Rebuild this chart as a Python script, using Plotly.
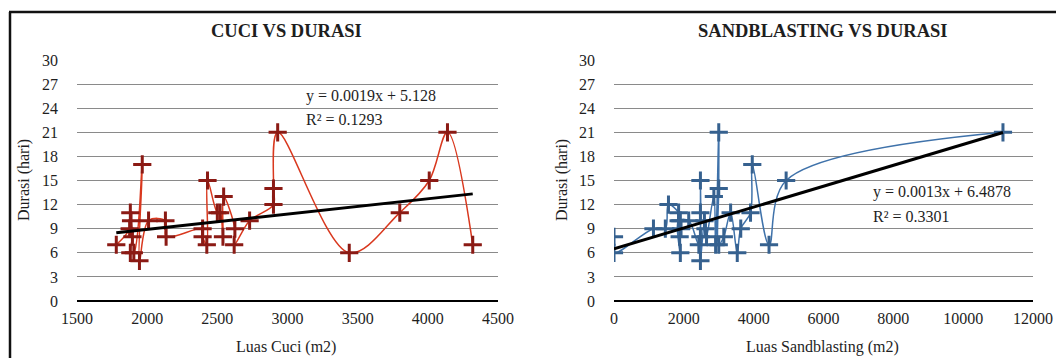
import plotly.graph_objects as go

# ---------------- data ----------------
cuci_x = [1780, 1875, 1880, 1885, 1895, 1880, 1905, 1965, 1945, 2010, 2130, 2135,
          2395, 2395, 2425, 2430, 2500, 2520, 2540, 2545, 2625, 2620, 2730,
          2900, 2900, 2930, 3440, 3800, 4010, 4140, 4320]
cuci_y = [7, 9, 11, 10, 8, 6, 6, 17, 5, 10, 10, 8,
          9, 8, 7, 15, 11, 11, 8, 13, 9, 7, 10,
          12, 14, 21, 6, 11, 15, 21, 7]
cuci_slope, cuci_icpt, cuci_r2 = 0.0019, 5.128, 0.1293

sb_x = [0, 0, 1130, 1470, 1560, 1850, 1900, 1920, 1880, 1900, 1850, 2140,
        2430, 2475, 2475, 2475, 2475, 2590, 2620, 2650, 2860, 2910,
        3000, 3000, 3000, 3145, 3340, 3530, 3630, 3910, 3960, 4440, 4930, 11140]
sb_y = [8, 6, 9, 9, 12, 11, 10, 9, 8, 6, 10, 10,
        7, 15, 11, 8, 5, 10, 9, 8, 13, 7,
        21, 14, 7, 8, 11, 6, 9, 11, 17, 7, 15, 21]
sb_slope, sb_icpt, sb_r2 = 0.0013, 6.4878, 0.3301

y_ticks = [0, 3, 6, 9, 12, 15, 18, 21, 24, 27, 30]
cuci_xticks = [1500, 2000, 2500, 3000, 3500, 4000, 4500]
sb_xticks = [0, 2000, 4000, 6000, 8000, 10000, 12000]

# ---------------- layout helpers ----------------
W, H = 1056, 358
FONT = "Liberation Serif, Times New Roman, serif"
TXT = "#1e1e1e"


def fx(p):
    return p / W


def fy(p):
    return 1 - p / H


fig = go.Figure()

# left series
fig.add_trace(go.Scatter(
    x=cuci_x, y=cuci_y, mode="lines+markers", xaxis="x", yaxis="y",
    line=dict(color="#D9381E", width=1.5, shape="spline", smoothing=1),
    marker=dict(symbol="cross-thin", size=13, color="#8B1A14",
                line=dict(width=3, color="#8B1A14")),
    showlegend=False))
cx = [min(cuci_x), max(cuci_x)]
fig.add_trace(go.Scatter(
    x=cx, y=[cuci_slope * v + cuci_icpt for v in cx], mode="lines",
    xaxis="x", yaxis="y", line=dict(color="black", width=3), showlegend=False))

# right series
fig.add_trace(go.Scatter(
    x=sb_x, y=sb_y, mode="lines+markers", xaxis="x2", yaxis="y2",
    line=dict(color="#3F72AA", width=1.5, shape="spline", smoothing=1),
    marker=dict(symbol="cross-thin", size=13, color="#36618F",
                line=dict(width=3, color="#36618F")),
    showlegend=False))
sx = [min(sb_x), max(sb_x)]
fig.add_trace(go.Scatter(
    x=sx, y=[sb_slope * v + sb_icpt for v in sx], mode="lines",
    xaxis="x2", yaxis="y2", line=dict(color="black", width=3), showlegend=False))

ydom = [fy(301), fy(60)]
tickfont = dict(family=FONT, size=16, color=TXT)

yax = dict(range=[0, 30], tickvals=y_ticks, ticktext=[str(v) for v in y_ticks],
           showgrid=True, gridcolor="#8A8A8A",
           gridwidth=1, zeroline=True, zerolinecolor="black", zerolinewidth=2,
           showline=False, ticks="", tickfont=tickfont, domain=ydom,
           ticklabelstandoff=18, fixedrange=True, automargin=False)
xax = dict(showgrid=False, zeroline=False, showline=False, ticks="",
           tickfont=tickfont, ticklabelstandoff=6, fixedrange=True, automargin=False)

fig.update_layout(
    template="none",
    width=W, height=H, margin=dict(l=0, r=0, t=0, b=0, pad=0), autosize=False,
    paper_bgcolor="white", plot_bgcolor="rgba(0,0,0,0)",
    xaxis=dict(xax, domain=[fx(77), fx(498)], range=[1500, 4500],
               tickvals=cuci_xticks, ticktext=[str(v) for v in cuci_xticks], anchor="y"),
    yaxis=dict(yax, anchor="x"),
    xaxis2=dict(xax, domain=[fx(614), fx(1033)], range=[0, 12000],
                tickvals=sb_xticks, ticktext=[str(v) for v in sb_xticks], anchor="y2"),
    yaxis2=dict(yax, anchor="x2"),
    showlegend=False,
)

ann = []
# titles
ann.append(dict(text="<b>CUCI VS DURASI</b>", x=fx(286), y=fy(31), xref="paper", yref="paper",
                showarrow=False, font=dict(family=FONT, size=18.5, color=TXT),
                xanchor="center", yanchor="middle"))
ann.append(dict(text="<b>SANDBLASTING VS DURASI</b>", x=fx(822), y=fy(31), xref="paper",
                yref="paper", showarrow=False, font=dict(family=FONT, size=18.5, color=TXT),
                xanchor="center", yanchor="middle"))
# axis titles
for xc, txt in [(286, "Luas Cuci (m2)"), (822, "Luas Sandblasting (m2)")]:
    ann.append(dict(text=txt, x=fx(xc), y=fy(347), xref="paper", yref="paper",
                    showarrow=False, font=dict(family=FONT, size=16, color=TXT),
                    xanchor="center", yanchor="middle"))
for xc in [24, 562]:
    ann.append(dict(text="Durasi (hari)", x=fx(xc), y=fy(180), xref="paper", yref="paper",
                    showarrow=False, textangle=-90,
                    font=dict(family=FONT, size=16, color=TXT),
                    xanchor="center", yanchor="middle"))
# equations
eqfont = dict(family=FONT, size=16, color=TXT)
ann.append(dict(text=f"y = {cuci_slope}x + {cuci_icpt}", x=fx(304), y=fy(96), xref="paper",
                yref="paper", showarrow=False, font=eqfont, xanchor="left", yanchor="middle"))
ann.append(dict(text=f"R² = {cuci_r2}", x=fx(304), y=fy(119), xref="paper",
                yref="paper", showarrow=False, font=eqfont, xanchor="left", yanchor="middle"))
ann.append(dict(text=f"y = {sb_slope}x + {sb_icpt}", x=fx(871), y=fy(192), xref="paper",
                yref="paper", showarrow=False, font=eqfont, xanchor="left", yanchor="middle"))
ann.append(dict(text=f"R² = {sb_r2}", x=fx(871), y=fy(216), xref="paper",
                yref="paper", showarrow=False, font=eqfont, xanchor="left", yanchor="middle"))
fig.update_layout(annotations=ann)

# frame lines
fig.update_layout(shapes=[
    dict(type="line", xref="paper", yref="paper", x0=fx(9), x1=1, y0=fy(12), y1=fy(12),
         line=dict(color="#111", width=2.5)),
    dict(type="line", xref="paper", yref="paper", x0=fx(10), x1=fx(10), y0=fy(12), y1=0,
         line=dict(color="#111", width=2.5)),
])

fig.write_html("out.html", config={"displayModeBar": False})
